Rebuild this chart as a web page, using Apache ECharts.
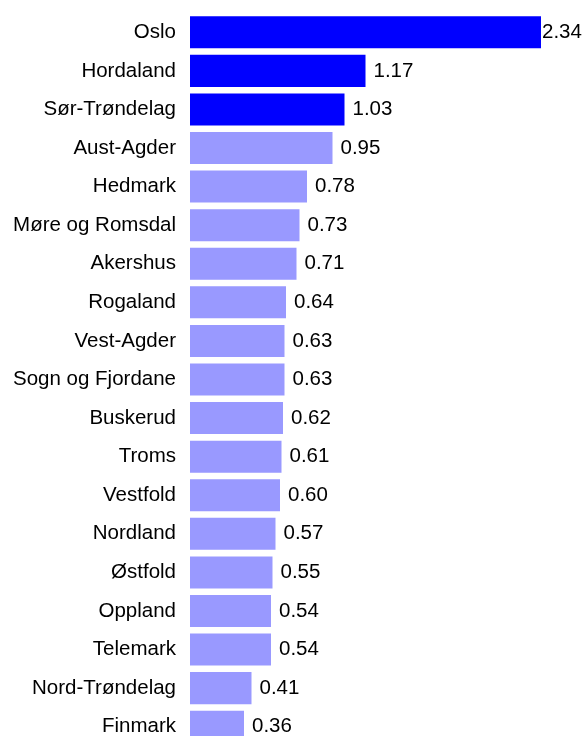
<!DOCTYPE html>
<html><head><meta charset="utf-8">
<script src="https://cdn.jsdelivr.net/npm/echarts@6/dist/echarts.min.js"></script>
<style>html,body{margin:0;padding:0;background:#fff;overflow:hidden}#c{width:582px;height:760px}</style>
</head><body><div id="c"></div>
<script>
const categories = ["Oslo","Hordaland","Sør-Trøndelag","Aust-Agder","Hedmark","Møre og Romsdal","Akershus","Rogaland","Vest-Agder","Sogn og Fjordane","Buskerud","Troms","Vestfold","Nordland","Østfold","Oppland","Telemark","Nord-Trøndelag","Finmark"];
const values = [2.34,1.17,1.03,0.95,0.78,0.73,0.71,0.64,0.63,0.63,0.62,0.61,0.60,0.57,0.55,0.54,0.54,0.41,0.36];
const highlighted = ["Oslo","Hordaland","Sør-Trøndelag"];

const chart = echarts.init(document.getElementById('c'), null, {renderer:'canvas'});
const font = 'Liberation Sans, Arial, sans-serif';
chart.setOption({
  animation:false,
  grid:{left:190, top:13, width:375, height:733, containLabel:false},
  xAxis:{type:'value', min:0, max:2.5, show:false},
  yAxis:{type:'category', data:categories, inverse:true,
    axisLine:{show:false}, axisTick:{show:false}, splitLine:{show:false},
    axisLabel:{margin:14, color:'#000', fontSize:20.5, fontFamily:font}},
  series:[{type:'bar', barCategoryGap:'17%',
    data: values.map((v,i)=>({value:v, itemStyle:{color: highlighted.includes(categories[i]) ? '#0000FF' : '#9999FF'},
      label:{distance: i===0 ? 1 : 8}})),
    label:{show:true, position:'right', color:'#000', fontSize:20.5, fontFamily:font,
      formatter:p=>p.value.toFixed(2)}
  }]
});
</script></body></html>
